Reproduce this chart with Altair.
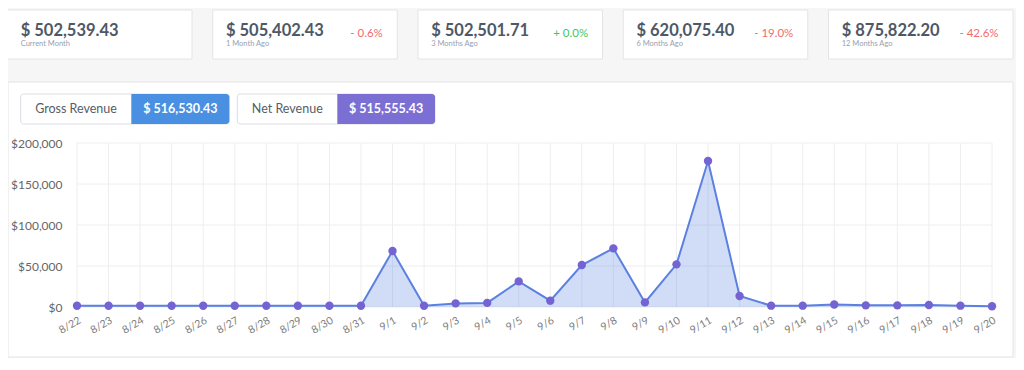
import altair as alt
import pandas as pd

# ---------------- data ----------------
dates = ["8/22", "8/23", "8/24", "8/25", "8/26", "8/27", "8/28", "8/29", "8/30", "8/31",
         "9/1", "9/2", "9/3", "9/4", "9/5", "9/6", "9/7", "9/8", "9/9", "9/10",
         "9/11", "9/12", "9/13", "9/14", "9/15", "9/16", "9/17", "9/18", "9/19", "9/20"]
revenue = [1500, 1500, 1500, 1500, 1500, 1500, 1500, 1500, 1500, 1500,
           68300, 1500, 4400, 5000, 31200, 7700, 51200, 71500, 5600, 52000,
           178000, 13400, 1600, 1600, 3000, 2000, 2000, 2400, 1600, 900]
y_ticks = [0, 50000, 100000, 150000, 200000]

card_values = ["$ 502,539.43", "$ 505,402.43", "$ 502,501.71", "$ 620,075.40", "$ 875,822.20"]
card_labels = ["Current Month", "1 Month Ago", "3 Months Ago", "6 Months Ago", "12 Months Ago"]
card_changes = ["", "- 0.6%", "+ 0.0%", "- 19.0%", "- 42.6%"]

button_names = ["Gross Revenue", "Net Revenue"]
button_values = ["$ 516,530.43", "$ 515,555.43"]

# ---------------- styles / layout ----------------
FONT = "Lato"
BG = "#f6f6f6"
LINE = "#5b80e0"
DOT = "#7463d2"
GRID = "#eeeeee"
RED = "#f26b6b"
GREEN = "#3cc763"
BTN_COLORS = ["#4a90e2", "#7b6fd4"]

W, H = 915, 164
PAD = {"left": 69, "top": 135, "right": 24, "bottom": 51}

df = pd.DataFrame({"date": dates, "revenue": revenue})
grid_df = pd.DataFrame({"date": dates})
ygrid_df = pd.DataFrame({"revenue": y_ticks})

card_left0, card_step, card_w = -69.5, 205.25, 184.5
cards = pd.DataFrame({
    "value": card_values,
    "label": card_labels,
    "change": card_changes,
})
cards["x0"] = [card_left0 + card_step * i for i in range(len(cards))]
cards["x1"] = cards["x0"] + card_w
cards["y0"] = -133
cards["y1"] = -84
cards["tx"] = cards["x0"] + 13.2
cards["ty"] = -107
cards["sy"] = -99.5
cards["px"] = cards["x1"] - 14.4
cards["py"] = -109.5
cards["ccol"] = [GREEN if c.startswith("+") else RED for c in card_changes]

buttons = pd.DataFrame({"name": button_names, "value": button_values, "color": BTN_COLORS})
buttons["bx0"] = [-56.3, 160.3]
buttons["bx1"] = [152.3, 358.0]
buttons["split"] = [54.3, 260.3]
buttons["y0"] = -49
buttons["y1"] = -19
buttons["ty"] = -34
buttons["nx"] = (buttons["bx0"] + buttons["split"]) / 2
buttons["vx"] = (buttons["split"] + buttons["bx1"]) / 2

one = pd.DataFrame({"a": [0]})

def P(field):
    return alt.X(field, type="quantitative", scale=None, axis=None)

def PY(field):
    return alt.Y(field, type="quantitative", scale=None, axis=None)

# ---------------- decoration ----------------
panel = alt.Chart(one).mark_rect(fill="white", stroke="#e4e4e4", strokeWidth=1).encode(
    x=alt.value(-69), x2=alt.value(936), y=alt.value(-61), y2=alt.value(214)
)

card_boxes = alt.Chart(cards).mark_rect(fill="white", stroke="#e4e4e4", strokeWidth=1).encode(
    x=P("x0"), x2=alt.X2("x1"), y=PY("y0"), y2=alt.Y2("y1")
)
card_main = alt.Chart(cards).mark_text(
    font=FONT, fontSize=16.5, fontWeight="bold", color="#4e5867", align="left", baseline="alphabetic"
).encode(x=P("tx"), y=PY("ty"), text="value:N")
card_sub = alt.Chart(cards).mark_text(
    font=FONT, fontSize=7.5, color="#98a1b1", align="left", baseline="middle"
).encode(x=P("tx"), y=PY("sy"), text="label:N")
card_pct = alt.Chart(cards).mark_text(
    font=FONT, fontSize=11.5, align="right", baseline="middle"
).encode(x=P("px"), y=PY("py"), text="change:N", color=alt.Color("ccol:N", scale=None))

btn_box = alt.Chart(buttons).mark_rect(fill="white", stroke="#d9dde3", strokeWidth=1, cornerRadius=3).encode(
    x=P("bx0"), x2=alt.X2("bx1"), y=PY("y0"), y2=alt.Y2("y1")
)
btn_fill = alt.Chart(buttons).mark_rect(cornerRadiusTopRight=3, cornerRadiusBottomRight=3).encode(
    x=P("split"), x2=alt.X2("bx1"), y=PY("y0"), y2=alt.Y2("y1"),
    color=alt.Color("color:N", scale=None)
)
btn_name = alt.Chart(buttons).mark_text(
    font=FONT, fontSize=12.5, color="#555d66", align="center", baseline="middle"
).encode(x=P("nx"), y=PY("ty"), text="name:N")
btn_val = alt.Chart(buttons).mark_text(
    font=FONT, fontSize=12.5, fontWeight="bold", color="white", align="center", baseline="middle"
).encode(x=P("vx"), y=PY("ty"), text="value:N")

# ---------------- main chart ----------------
xscale = alt.Scale(type="point", padding=0, domain=dates)
yscale = alt.Scale(domain=[0, 200000], nice=False)

xaxis = alt.Axis(labelAngle=-30, labelFont=FONT, labelFontSize=10.5, labelColor="#7d7d7d",
                 ticks=False, domain=False, grid=False, labelPadding=8, zindex=1, title=None)
yaxis = alt.Axis(values=y_ticks, format="$,.0f", labelFont=FONT, labelFontSize=12,
                 labelColor="#666666", ticks=False, domain=False, grid=False,
                 labelPadding=15, zindex=1, title=None)

X = alt.X("date:O", scale=xscale, sort=dates, axis=xaxis)
Y = alt.Y("revenue:Q", scale=yscale, axis=yaxis)

xgrid = alt.Chart(grid_df).mark_rule(color=GRID, strokeWidth=1).encode(x=X)
ygrid = alt.Chart(ygrid_df).mark_rule(color=GRID, strokeWidth=1).encode(y=Y)

base = alt.Chart(df).encode(x=X, y=Y)
area = base.mark_area(color=LINE, opacity=0.28)
line = base.mark_line(color=LINE, strokeWidth=2)
dots = base.mark_circle(color=DOT, size=70, opacity=1)

main = alt.layer(xgrid, ygrid, area, line, dots)

chart = alt.layer(
    panel, card_boxes, card_main, card_sub, card_pct,
    btn_box, btn_fill, btn_name, btn_val, main
).resolve_scale(x="independent", y="independent").properties(
    width=W, height=H,
    autosize=alt.AutoSizeParams(type="none"),
    padding=PAD,
    background=BG,
).configure_view(stroke=None)

chart.save("out.html", embed_options={"renderer": "svg", "actions": False})
